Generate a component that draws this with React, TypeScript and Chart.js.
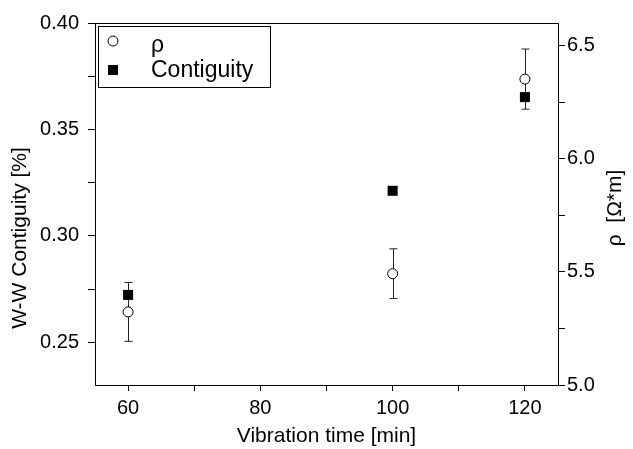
import React, { useEffect, useRef } from "react";
import { Chart, registerables } from "chart.js";

Chart.register(...registerables);

const vibrationTime = [60, 100, 120];
const contiguity = [0.2723, 0.3212, 0.3652];
const rho = [5.323, 5.492, 6.352];
const rhoErr = [0.13, 0.11, 0.133];

const xTicks = [60, 70, 80, 90, 100, 110, 120];
const xLabeled = [60, 80, 100, 120];
const leftTicks = [0.25, 0.275, 0.3, 0.325, 0.35, 0.375, 0.4];
const leftLabeled = [0.25, 0.3, 0.35, 0.4];
const rightTicks = [5.0, 5.25, 5.5, 5.75, 6.0, 6.25, 6.5];
const rightLabeled = [5.0, 5.5, 6.0, 6.5];

const FONT = "'Liberation Sans', Arial, sans-serif";

const isIn = (arr: number[], v: number) => arr.some((a) => Math.abs(a - v) < 1e-6);

const extrasPlugin = {
  id: "extras",
  beforeDatasetsDraw(chart: any) {
    const ctx = chart.ctx;
    const x = chart.scales.x;
    const y2 = chart.scales.y2;
    ctx.save();
    ctx.strokeStyle = "#222";
    ctx.lineWidth = 1;
    for (let i = 0; i < vibrationTime.length; i++) {
      const px = Math.round(x.getPixelForValue(vibrationTime[i])) + 0.5;
      const top = y2.getPixelForValue(rho[i] + rhoErr[i]);
      const bot = y2.getPixelForValue(rho[i] - rhoErr[i]);
      ctx.beginPath();
      ctx.moveTo(px, top);
      ctx.lineTo(px, bot);
      ctx.moveTo(px - 4, top);
      ctx.lineTo(px + 4, top);
      ctx.moveTo(px - 4, bot);
      ctx.lineTo(px + 4, bot);
      ctx.stroke();
    }
    ctx.restore();
  },
  afterDraw(chart: any) {
    const ctx = chart.ctx;
    const a = chart.chartArea;
    ctx.save();
    ctx.strokeStyle = "#000";
    ctx.lineWidth = 1;
    ctx.strokeRect(Math.round(a.left) + 0.5, Math.round(a.top) + 0.5, Math.round(a.right - a.left), Math.round(a.bottom - a.top));
    ctx.restore();

    // axis titles (rotated -90)
    ctx.save();
    ctx.fillStyle = "#000";
    ctx.font = `21px ${FONT}`;
    ctx.textAlign = "center";
    ctx.textBaseline = "middle";
    ctx.translate(20, 238);
    ctx.rotate(-Math.PI / 2);
    ctx.fillText("W-W Contiguity [%]", 0, 0);
    ctx.restore();

    ctx.save();
    ctx.fillStyle = "#000";
    ctx.font = `21px ${FONT}`;
    ctx.textAlign = "center";
    ctx.textBaseline = "middle";
    ctx.translate(615, 208);
    ctx.rotate(-Math.PI / 2);
    ctx.fillText("\u03c1  [\u03a9*m]", 0, 0);
    ctx.restore();

    // legend
    ctx.save();
    const lx = a.left + 3;
    const ly = a.top + 3;
    ctx.fillStyle = "#fff";
    ctx.fillRect(lx, ly, 172, 61);
    ctx.strokeStyle = "#000";
    ctx.lineWidth = 1;
    ctx.strokeRect(lx + 0.5, ly + 0.5, 172, 61);
    ctx.beginPath();
    ctx.arc(lx + 15, ly + 15, 5, 0, Math.PI * 2);
    ctx.fillStyle = "#fff";
    ctx.fill();
    ctx.strokeStyle = "#000";
    ctx.stroke();
    ctx.fillStyle = "#000";
    ctx.fillRect(lx + 10, ly + 39, 10, 10);
    ctx.font = `23px ${FONT}`;
    ctx.textAlign = "left";
    ctx.textBaseline = "middle";
    ctx.fillText("\u03c1", lx + 53, ly + 20);
    ctx.fillText("Contiguity", lx + 53, ly + 45);
    ctx.restore();
  },
};

export default function App() {
  const ref = useRef<HTMLCanvasElement | null>(null);
  useEffect(() => {
    if (!ref.current) return;
    const chart = new Chart(ref.current, {
      type: "scatter",
      data: {
        datasets: [
          {
            label: "\u03c1",
            data: vibrationTime.map((t, i) => ({ x: t, y: rho[i] })),
            yAxisID: "y2",
            pointStyle: "circle",
            pointRadius: 5,
            pointBackgroundColor: "#fff",
            pointBorderColor: "#000",
            pointBorderWidth: 1,
            showLine: false,
          },
          {
            label: "Contiguity",
            data: vibrationTime.map((t, i) => ({ x: t, y: contiguity[i] })),
            yAxisID: "y",
            pointStyle: "rect",
            pointRadius: 7.1,
            pointBackgroundColor: "#000",
            pointBorderColor: "#000",
            pointBorderWidth: 0,
            showLine: false,
          },
        ],
      },
      options: {
        animation: false,
        responsive: false,
        layout: { padding: { top: 23, left: 0, right: 0, bottom: 0 } },
        plugins: { legend: { display: false }, tooltip: { enabled: false } },
        scales: {
          x: {
            type: "linear",
            min: 55,
            max: 125,
            afterBuildTicks: (s: any) => {
              s.ticks = xTicks.map((v) => ({ value: v }));
            },
            afterFit: (s: any) => {
              s.height = 64;
            },
            grid: { drawOnChartArea: false, drawTicks: true, tickLength: 6, color: "#000" },
            border: { display: true, color: "#000" },
            ticks: {
              autoSkip: false,
              maxRotation: 0,
              padding: 5,
              color: "#000",
              font: { family: FONT, size: 20 },
              callback: (v: any) => (isIn(xLabeled, Number(v)) ? String(v) : ""),
            },
            title: {
              display: true,
              text: "Vibration time [min]",
              color: "#000",
              font: { family: FONT, size: 21 },
              padding: { top: 0, bottom: 0 },
            },
          },
          y: {
            type: "linear",
            position: "left",
            min: 0.23,
            max: 0.4,
            afterBuildTicks: (s: any) => {
              s.ticks = leftTicks.map((v) => ({ value: v }));
            },
            afterFit: (s: any) => {
              s.width = 95;
            },
            grid: { drawOnChartArea: false, drawTicks: true, tickLength: 7, color: "#000" },
            border: { display: true, color: "#000" },
            ticks: {
              autoSkip: false,
              padding: 9,
              color: "#000",
              font: { family: FONT, size: 20 },
              callback: (v: any) => (isIn(leftLabeled, Number(v)) ? Number(v).toFixed(2) : ""),
            },
          },
          y2: {
            type: "linear",
            position: "right",
            min: 5.0,
            max: 6.6,
            afterBuildTicks: (s: any) => {
              s.ticks = rightTicks.map((v) => ({ value: v }));
            },
            afterFit: (s: any) => {
              s.width = 75;
            },
            grid: { drawOnChartArea: false, drawTicks: true, tickLength: 7, color: "#000" },
            border: { display: true, color: "#000" },
            ticks: {
              autoSkip: false,
              padding: 2,
              color: "#000",
              font: { family: FONT, size: 20 },
              callback: (v: any) => (isIn(rightLabeled, Number(v)) ? Number(v).toFixed(1) : ""),
            },
          },
        },
      },
      plugins: [extrasPlugin],
    });
    return () => chart.destroy();
  }, []);
  return (
    <div style={{ position: "fixed", left: 0, top: 0, width: 633, height: 449, background: "#fff" }}>
      <canvas ref={ref} width={633} height={449} style={{ width: 633, height: 449 }} />
    </div>
  );
}
